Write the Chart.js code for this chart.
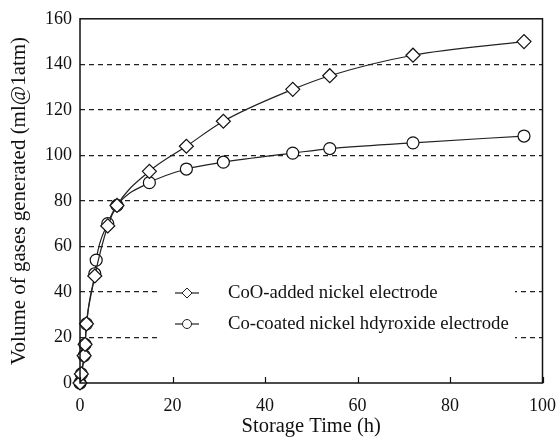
<!DOCTYPE html>
<html>
<head>
<meta charset="utf-8">
<script src="https://cdn.jsdelivr.net/npm/chart.js@4/dist/chart.umd.min.js"></script>
<style>
  html, body { margin: 0; padding: 0; background: #fff; }
  #wrap { width: 560px; height: 439px; }
</style>
</head>
<body>
<div id="wrap"><canvas id="gasChart" width="560" height="439"></canvas></div>
<script>
// Storage time (h) and generated gas volume (ml@1atm)
const cooHours = [0, 0.3, 0.9, 1.1, 1.4, 3.2, 6, 8, 15, 23, 31, 46, 54, 72, 96];
const cooVolume = [0, 4, 12, 17, 26, 47, 69, 78, 93, 104, 115, 129, 135, 144, 150];

const coHours = [0, 0.3, 0.9, 1.1, 1.4, 3.2, 3.5, 6, 8, 15, 23, 31, 46, 54, 72, 96];
const coVolume = [0, 4, 12, 17, 26, 48, 54, 70, 78, 88, 94, 97, 101, 103, 105.5, 108.5];

const xTicks = [0, 20, 40, 60, 80, 100];
const yTicks = [0, 20, 40, 60, 80, 100, 120, 140, 160];

const seriesNames = ['CoO-added nickel electrode', 'Co-coated nickel hdyroxide electrode'];

const FONT = "'Liberation Serif', 'Times New Roman', serif";

function toPoints(xs, ys) {
  return xs.map((x, i) => ({ x: x, y: ys[i] }));
}

// Box frame, inward x ticks and the in-plot legend
const framePlugin = {
  id: 'frame',
  afterDraw(chart) {
    const { ctx, chartArea: a, scales } = chart;
    ctx.save();
    ctx.strokeStyle = '#111';
    ctx.lineWidth = 1.5;
    ctx.strokeRect(a.left, a.top, a.right - a.left, a.bottom - a.top);

    ctx.lineWidth = 1.2;
    ctx.beginPath();
    xTicks.forEach(v => {
      const px = Math.round(scales.x.getPixelForValue(v)) + 0.5;
      ctx.moveTo(px, a.bottom);
      ctx.lineTo(px, a.bottom - 6);
    });
    ctx.stroke();

    // legend box covering the grid lines
    ctx.fillStyle = '#fff';
    ctx.fillRect(157, 262, 358, 80);

    const rows = [293, 324];
    chart.data.datasets.forEach((ds, i) => {
      const y = rows[i];
      ctx.strokeStyle = '#222';
      ctx.lineWidth = 1.2;
      ctx.beginPath();
      ctx.moveTo(175, y);
      ctx.lineTo(199, y);
      ctx.stroke();
      ctx.fillStyle = '#fff';
      ctx.lineWidth = 1;
      ctx.beginPath();
      if (ds.pointStyle === 'rectRot') {
        ctx.moveTo(187, y - 5);
        ctx.lineTo(192, y);
        ctx.lineTo(187, y + 5);
        ctx.lineTo(182, y);
        ctx.closePath();
      } else {
        ctx.arc(187, y, 4.5, 0, Math.PI * 2);
      }
      ctx.fill();
      ctx.stroke();
      ctx.fillStyle = '#111';
      ctx.font = '18.7px ' + FONT;
      ctx.textBaseline = 'middle';
      ctx.fillText(seriesNames[i], 228, y);
    });
    ctx.restore();
  }
};

new Chart(document.getElementById('gasChart'), {
  type: 'scatter',
  data: {
    datasets: [
      {
        label: seriesNames[0],
        data: toPoints(cooHours, cooVolume),
        showLine: true,
        clip: false,
        borderColor: '#222',
        borderWidth: 1.2,
        backgroundColor: '#fff',
        pointStyle: 'rectRot',
        pointRadius: 7,
        pointBorderWidth: 1.2,
        pointBorderColor: '#111',
        pointBackgroundColor: '#fff',
        cubicInterpolationMode: 'monotone'
      },
      {
        label: seriesNames[1],
        data: toPoints(coHours, coVolume),
        showLine: true,
        clip: false,
        borderColor: '#222',
        borderWidth: 1.2,
        backgroundColor: '#fff',
        pointStyle: 'circle',
        pointRadius: 6,
        pointBorderWidth: 1.2,
        pointBorderColor: '#111',
        pointBackgroundColor: '#fff',
        cubicInterpolationMode: 'monotone'
      }
    ]
  },
  options: {
    responsive: false,
    animation: false,
    layout: { padding: { top: 18, right: 17, left: 0, bottom: 0 } },
    plugins: {
      legend: { display: false },
      tooltip: { enabled: false }
    },
    scales: {
      x: {
        type: 'linear',
        min: 0,
        max: 100,
        afterBuildTicks: scale => { scale.ticks = xTicks.map(v => ({ value: v })); },
        afterFit: scale => { scale.height = 56; },
        grid: { display: false },
        border: { display: false },
        ticks: { color: '#111', font: { family: FONT, size: 18 }, padding: 4, maxRotation: 0 },
        title: {
          display: true,
          text: 'Storage Time (h)',
          color: '#111',
          font: { family: FONT, size: 20.5 },
          padding: { top: 0, bottom: 0 }
        }
      },
      y: {
        type: 'linear',
        min: 0,
        max: 160,
        afterBuildTicks: scale => { scale.ticks = yTicks.map(v => ({ value: v })); },
        afterFit: scale => { scale.width = 80; },
        grid: {
          drawTicks: false,
          color: ctx => (ctx.tick && (ctx.tick.value === 0 || ctx.tick.value === 160)) ? 'rgba(0,0,0,0)' : '#222',
          lineWidth: 1.2
        },
        border: { display: false, dash: [5, 4] },
        ticks: { color: '#111', font: { family: FONT, size: 18 }, padding: 8 },
        title: {
          display: true,
          text: 'Volume of gases generated (ml@1atm)',
          color: '#111',
          font: { family: FONT, size: 21 },
          padding: { top: 7, bottom: 0 }
        }
      }
    }
  },
  plugins: [framePlugin]
});
</script>
</body>
</html>
